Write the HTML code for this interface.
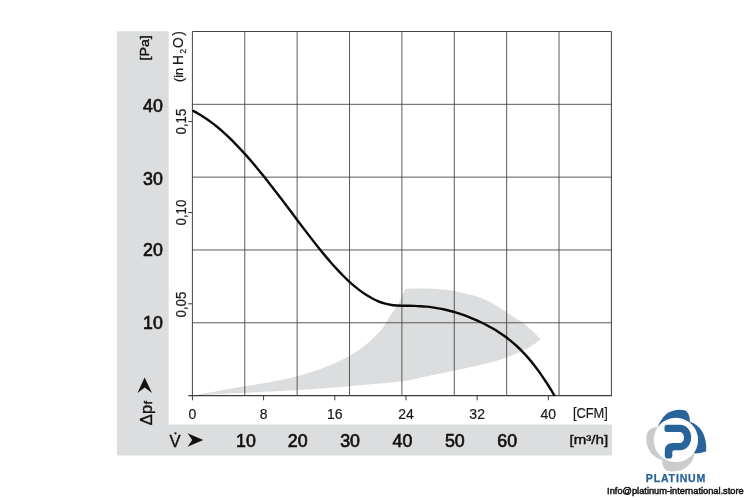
<!DOCTYPE html>
<html lang="en">
<head>
<meta charset="utf-8">
<title>Fan curve</title>
<style>
html,body{margin:0;padding:0;background:#fff;}
body{width:750px;height:500px;overflow:hidden;}
svg{display:block;}
svg text{font-family:"Liberation Sans",sans-serif;fill:#111;}
.big text,text.big{font-size:17.8px;stroke:#111;stroke-width:.65px;}
.sm text{font-size:14px;fill:#1a1a1a;stroke:#1a1a1a;stroke-width:.2px;}
.rot text{font-size:14.4px;fill:#1a1a1a;stroke:#1a1a1a;stroke-width:.2px;}
</style>
</head>
<body>
<svg width="750" height="500" viewBox="0 0 750 500">
<rect width="750" height="500" fill="#fff"/>
<!-- grey L-shaped band -->
<path d="M117 31.2H168.7V424.5H611.9V455.6H117Z" fill="#dcddde"/>
<!-- shaded operating area -->
<path d="M192.60 395.50 C196.00 394.90 205.10 393.32 213.00 391.90 C220.90 390.48 230.67 388.62 240.00 387.00 C249.33 385.38 259.40 383.98 269.00 382.20 C278.60 380.42 288.27 378.78 297.60 376.30 C306.93 373.82 316.28 370.72 325.00 367.30 C333.72 363.88 342.90 359.72 349.90 355.80 C356.90 351.88 361.98 347.88 367.00 343.80 C372.02 339.72 376.83 334.82 380.00 331.30 C383.17 327.78 383.78 326.03 386.00 322.70 C388.22 319.37 390.97 314.97 393.30 311.30 C395.63 307.63 398.00 304.47 400.00 300.70 C402.00 296.93 404.42 290.70 405.30 288.70 C407.75 288.65 415.33 288.38 420.00 288.40 C424.67 288.42 428.85 288.53 433.30 288.80 C437.75 289.07 443.25 289.63 446.70 290.00 C450.15 290.37 450.67 290.33 454.00 291.00 C457.33 291.67 462.37 292.90 466.70 294.00 C471.03 295.10 475.62 296.00 480.00 297.60 C484.38 299.20 488.58 301.17 493.00 303.60 C497.42 306.03 501.67 309.10 506.50 312.20 C511.33 315.30 517.92 319.30 522.00 322.20 C526.08 325.10 527.87 326.73 531.00 329.60 C534.13 332.47 539.17 337.77 540.80 339.40 C539.33 340.42 534.80 343.68 532.00 345.50 C529.20 347.32 528.25 348.30 524.00 350.30 C519.75 352.30 512.17 355.45 506.50 357.50 C500.83 359.55 496.08 360.97 490.00 362.60 C483.92 364.23 475.93 365.97 470.00 367.30 C464.07 368.63 463.07 368.78 454.40 370.60 C445.73 372.42 427.07 376.37 418.00 378.20 C408.93 380.03 411.35 380.27 400.00 381.60 C388.65 382.93 366.97 384.78 349.90 386.20 C332.83 387.62 315.92 388.98 297.60 390.10 C279.28 391.22 257.50 391.98 240.00 392.90 C222.50 393.82 200.50 395.15 192.60 395.60 Z" fill="#dcddde"/>
<!-- grid -->
<g stroke="#474747" stroke-width="0.9" fill="none"><line x1="244.78" y1="31.50" x2="244.78" y2="395.60"/><line x1="297.15" y1="31.50" x2="297.15" y2="395.60"/><line x1="349.52" y1="31.50" x2="349.52" y2="395.60"/><line x1="401.90" y1="31.50" x2="401.90" y2="395.60"/><line x1="454.27" y1="31.50" x2="454.27" y2="395.60"/><line x1="506.65" y1="31.50" x2="506.65" y2="395.60"/><line x1="559.02" y1="31.50" x2="559.02" y2="395.60"/><line x1="192.40" y1="104.32" x2="611.40" y2="104.32"/><line x1="192.40" y1="177.14" x2="611.40" y2="177.14"/><line x1="192.40" y1="249.96" x2="611.40" y2="249.96"/><line x1="192.40" y1="322.78" x2="611.40" y2="322.78"/></g>
<g stroke="#444" stroke-width="1" fill="none"><path d="M192.40 395.60V31.50H611.40V396.10"/></g>
<g stroke="#3c3c3c" stroke-width="1.2" fill="none"><line x1="188.3" y1="395.60" x2="611.90" y2="395.60"/></g>
<g stroke="#3c3c3c" stroke-width="1" fill="none"><line x1="192.40" y1="395.60" x2="192.40" y2="400.30"/><line x1="263.59" y1="395.60" x2="263.59" y2="400.30"/><line x1="334.78" y1="395.60" x2="334.78" y2="400.30"/><line x1="405.97" y1="395.60" x2="405.97" y2="400.30"/><line x1="477.16" y1="395.60" x2="477.16" y2="400.30"/><line x1="548.35" y1="395.60" x2="548.35" y2="400.30"/><line x1="188.2" y1="121.60" x2="192.40" y2="121.60"/><line x1="188.2" y1="212.60" x2="192.40" y2="212.60"/><line x1="188.2" y1="303.80" x2="192.40" y2="303.80"/></g>
<!-- fan curve -->
<path d="M192.40 110.52 C193.40 111.05 196.40 112.55 198.40 113.69 C200.40 114.84 202.40 116.08 204.40 117.39 C206.40 118.71 208.40 120.11 210.40 121.59 C212.40 123.07 214.40 124.63 216.40 126.26 C218.40 127.88 220.40 129.59 222.40 131.36 C224.40 133.14 226.40 134.98 228.40 136.89 C230.40 138.79 232.40 140.77 234.40 142.80 C236.40 144.83 238.40 146.92 240.40 149.06 C242.40 151.21 244.40 153.41 246.40 155.66 C248.40 157.90 250.40 160.20 252.40 162.54 C254.40 164.88 256.40 167.28 258.40 169.70 C260.40 172.12 262.40 174.59 264.40 177.09 C266.40 179.58 268.40 182.12 270.40 184.67 C272.40 187.23 274.40 189.82 276.40 192.42 C278.40 195.03 280.40 197.66 282.40 200.30 C284.40 202.93 286.40 205.59 288.40 208.25 C290.40 210.90 292.40 213.57 294.40 216.23 C296.40 218.89 298.40 221.56 300.40 224.20 C302.40 226.85 304.40 229.49 306.40 232.11 C308.40 234.72 310.40 237.33 312.40 239.89 C314.40 242.46 316.40 245.01 318.40 247.50 C320.40 250.00 322.40 252.47 324.40 254.88 C326.40 257.28 328.40 259.65 330.40 261.95 C332.40 264.25 334.40 266.50 336.40 268.67 C338.40 270.84 340.40 272.95 342.40 274.98 C344.40 277.00 346.40 278.96 348.40 280.82 C350.40 282.68 352.40 284.46 354.40 286.14 C356.40 287.81 358.40 289.41 360.40 290.89 C362.40 292.37 364.40 293.75 366.40 295.02 C368.40 296.29 370.40 297.45 372.40 298.49 C374.40 299.54 376.40 300.47 378.40 301.28 C380.40 302.10 382.40 302.79 384.40 303.37 C386.40 303.95 388.40 304.41 390.40 304.76 C392.40 305.11 394.40 305.33 396.40 305.49 C398.40 305.64 400.40 305.67 402.40 305.72 C404.40 305.76 406.40 305.74 408.40 305.77 C410.40 305.80 412.40 305.83 414.40 305.90 C416.40 305.97 418.40 306.05 420.40 306.18 C422.40 306.30 424.40 306.46 426.40 306.65 C428.40 306.85 430.40 307.09 432.40 307.36 C434.40 307.64 436.40 307.96 438.40 308.32 C440.40 308.69 442.40 309.09 444.40 309.54 C446.40 309.99 448.40 310.47 450.40 311.00 C452.40 311.53 454.40 312.10 456.40 312.71 C458.40 313.33 460.40 313.98 462.40 314.67 C464.40 315.36 466.40 316.09 468.40 316.87 C470.40 317.64 472.40 318.46 474.40 319.32 C476.40 320.18 478.40 321.08 480.40 322.03 C482.40 322.97 484.40 323.96 486.40 325.01 C488.40 326.06 490.40 327.15 492.40 328.31 C494.40 329.47 496.40 330.68 498.40 331.97 C500.40 333.26 502.40 334.61 504.40 336.05 C506.40 337.49 508.40 339.00 510.40 340.62 C512.40 342.24 514.40 343.94 516.40 345.76 C518.40 347.59 520.40 349.51 522.40 351.57 C524.40 353.63 526.40 355.81 528.40 358.12 C530.40 360.43 532.40 362.88 534.40 365.46 C536.40 368.03 538.40 370.75 540.40 373.59 C542.40 376.43 544.40 379.41 546.40 382.49 C548.40 385.56 551.02 389.82 552.40 392.05 C553.78 394.28 554.32 395.21 554.70 395.84" fill="none" stroke="#0a0a0a" stroke-width="2.4" stroke-linecap="butt" stroke-linejoin="round"/>
<!-- axis labels -->
<g class="big"><text x="162.8" y="111.90" text-anchor="end">40</text><text x="162.8" y="184.60" text-anchor="end">30</text><text x="162.8" y="256.40" text-anchor="end">20</text><text x="162.8" y="328.60" text-anchor="end">10</text><text x="245.97" y="446.8" text-anchor="middle">10</text><text x="297.75" y="446.8" text-anchor="middle">20</text><text x="350.12" y="446.8" text-anchor="middle">30</text><text x="402.50" y="446.8" text-anchor="middle">40</text><text x="454.88" y="446.8" text-anchor="middle">50</text><text x="507.25" y="446.8" text-anchor="middle">60</text></g>
<g class="sm"><text x="192.40" y="419" text-anchor="middle">0</text><text x="263.59" y="419" text-anchor="middle">8</text><text x="334.78" y="419" text-anchor="middle">16</text><text x="405.97" y="419" text-anchor="middle">24</text><text x="477.16" y="419" text-anchor="middle">32</text><text x="548.35" y="419" text-anchor="middle">40</text>
<text x="572.9" y="418.4" textLength="35" style="font-size:14.1px" lengthAdjust="spacingAndGlyphs">[CFM]</text>
<text x="569.5" y="443.9" textLength="38.6" lengthAdjust="spacingAndGlyphs" style="font-size:13.4px;fill:#111;stroke:#111;stroke-width:.4px">[m³/h]</text>
</g>
<g class="rot"><text transform="translate(186.1 121.60) rotate(-90)" text-anchor="middle" textLength="25.8" lengthAdjust="spacingAndGlyphs">0,15</text><text transform="translate(186.1 212.60) rotate(-90)" text-anchor="middle" textLength="25.8" lengthAdjust="spacingAndGlyphs">0,10</text><text transform="translate(186.1 304.60) rotate(-90)" text-anchor="middle" textLength="25.8" lengthAdjust="spacingAndGlyphs">0,05</text>
<text transform="translate(148.9 60.4) rotate(-90)" textLength="25.2" lengthAdjust="spacingAndGlyphs" style="font-size:13.4px;fill:#111;stroke:#111;stroke-width:.4px">[Pa]</text>
<text transform="translate(183.3 81) rotate(-90)" style="font-size:13.8px"><tspan x="-0.9" style="font-size:12.6px">(in</tspan><tspan x="15.9">H</tspan><tspan x="27.6" dy="2.6" style="font-size:8.2px">2</tspan><tspan x="32.9" dy="-2.6">O</tspan><tspan x="45.2">)</tspan></text>
</g>
<text transform="translate(152.1 425.3) rotate(-90)" style="font-size:16.6px;stroke:#111;stroke-width:.35px">Δ<tspan dx="0.3">p</tspan><tspan dx="0.4" style="font-size:11.5px;stroke-width:.5px">f</tspan></text>
<text x="169.5" y="446.7" style="font-size:16.6px;stroke:#111;stroke-width:.35px">V</text>
<circle cx="175.5" cy="433.3" r="1.15" fill="#111"/>
<!-- arrows -->
<path d="M144.6 377.4L152 392.9L144.7 387.6L137.5 392.9Z" fill="#111"/>
<path d="M203.2 440L187.6 433.3L192.2 440L187.6 446.7Z" fill="#111"/>
<!-- logo -->
<g>
<path d="M676 440L657 429C659.5 421.5 664 415.5 668.4 412.6C673 410 680 408.6 685.3 410.6C688.5 412.5 689.8 417 689.9 421.7Z" fill="#28639a"/>
<path d="M676 440L689.9 421.7C695 423 700 427.5 702.9 432.7C705.5 438 706.8 445 706.1 451.6C702 453 698.5 453.4 695 453.5Z" fill="#28639a"/>
<path d="M676 440L658 426.9C653 426.6 648.5 429.5 647 433.4C645.5 438 646.5 446 649.6 450.9C652.5 455.5 657.5 458.8 662.6 460Z" fill="#c9cbcd"/>
<path d="M676 440L662.2 460.4C662 464 663.5 468 665.8 470C668 471.4 670 471.5 672.4 471.4C675 471.4 677.5 471.1 679.6 470.6C682.5 469.8 685 468.5 686.8 467C688.8 465.4 690.4 463.6 691.6 461.6C693 459.3 694 456.6 694.6 453.8Z" fill="#c9cbcd"/>
<circle cx="675.9" cy="439.9" r="22.2" fill="#fff"/>
<path d="M667 424.7H680.1A11.1 12.8 0 0 1 680.1 450.3H674.3Q672.3 450.3 672.3 452.3V455.7Q672.3 458.5 669.5 458.5H667.6Q664.8 458.5 664.8 455.7V450.9Q664.8 442.9 673 442.9H680.1A3.9 5.4 0 0 0 680.1 432.1H667Q664.5 432.1 664.5 429.6V427.2Q664.5 424.7 667 424.7Z" fill="#28639a"/>
<text x="645.8" y="481.5" textLength="60.4" lengthAdjust="spacingAndGlyphs" style="font-size:10.2px;font-weight:bold;fill:#28639a;stroke:#28639a;stroke-width:.25px;letter-spacing:.8px">PLATINUM</text>
<text x="607.1" y="494" textLength="136.6" lengthAdjust="spacingAndGlyphs" style="font-size:9.7px;fill:#111;stroke:#111;stroke-width:.5px">Info@platinum-international.store</text>
</g>
</svg>
</body>
</html>
